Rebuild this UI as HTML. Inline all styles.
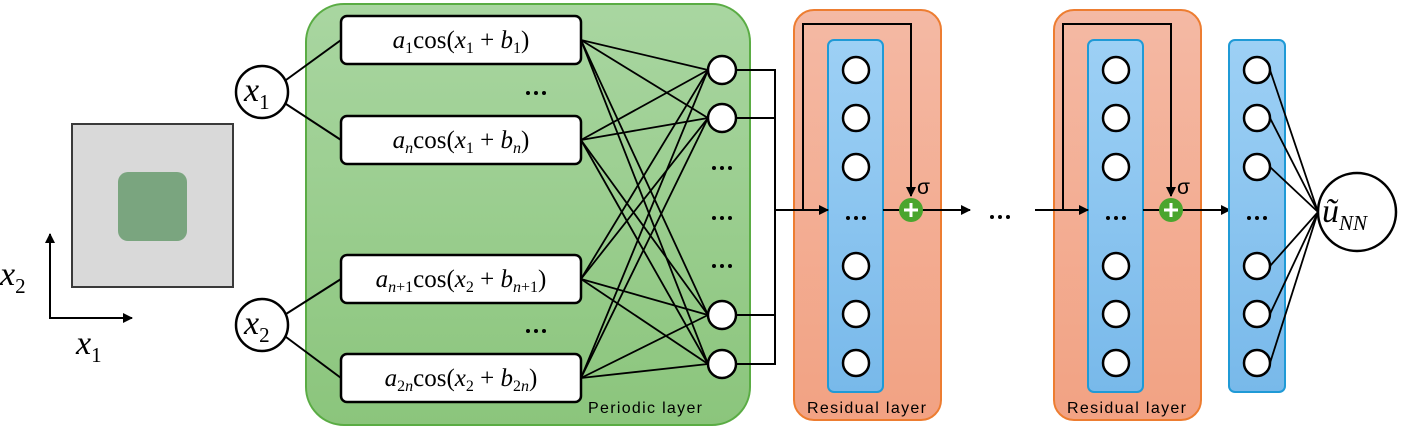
<!DOCTYPE html>
<html><head><meta charset="utf-8"><style>
html,body{margin:0;padding:0;background:#fff;}
svg{display:block;}
.m{font-family:"Liberation Serif",serif;font-style:italic;}
.s{font-family:"Liberation Sans",sans-serif;}
</style></head><body>
<svg width="1401" height="432" viewBox="0 0 1401 432" xmlns="http://www.w3.org/2000/svg">
<defs>
<linearGradient id="g" x1="0" y1="0" x2="0" y2="1"><stop offset="0" stop-color="#a9d6a1"/><stop offset="1" stop-color="#8bc57c"/></linearGradient>
<linearGradient id="o" x1="0" y1="0" x2="0" y2="1"><stop offset="0" stop-color="#f4b9a4"/><stop offset="1" stop-color="#f2a283"/></linearGradient>
<linearGradient id="b" x1="0" y1="0" x2="0" y2="1"><stop offset="0" stop-color="#9dd0f5"/><stop offset="1" stop-color="#78b9ea"/></linearGradient>
<marker id="a" markerWidth="10" markerHeight="10" refX="9" refY="5" orient="auto" markerUnits="userSpaceOnUse"><path d="M0,0 L10,5 L0,10 z" fill="#000"/></marker>
</defs>
<rect x="72" y="124" width="161" height="163" fill="#d9d9d9" stroke="#3a3a3a" stroke-width="2"/>
<rect x="118" y="172" width="69" height="69" rx="10" fill="#7aa57f"/>
<line x1="50" y1="318" x2="50" y2="234" stroke="#000" stroke-width="2" marker-end="url(#a)"/>
<line x1="49" y1="318" x2="132" y2="318" stroke="#000" stroke-width="2" marker-end="url(#a)"/>
<text x="0" y="285" class="m" font-size="34">x<tspan font-size="21" dy="8" font-style="normal">2</tspan></text>
<text x="76" y="354" class="m" font-size="34">x<tspan font-size="21" dy="8" font-style="normal">1</tspan></text>
<rect x="306" y="4" width="444" height="421" rx="38" fill="url(#g)" stroke="#5aac44" stroke-width="2"/>
<g stroke="#000" stroke-width="2">
<line x1="286" y1="80" x2="341" y2="40"/><line x1="286" y1="104" x2="341" y2="140"/>
<line x1="286" y1="314" x2="341" y2="279"/><line x1="286" y1="337" x2="341" y2="378"/>
</g>
<g stroke="#000" stroke-width="1.8">
<line x1="581" y1="40" x2="708" y2="70"/><line x1="581" y1="40" x2="708" y2="118"/><line x1="581" y1="40" x2="708" y2="315"/><line x1="581" y1="40" x2="708" y2="364"/>
<line x1="581" y1="140" x2="708" y2="70"/><line x1="581" y1="140" x2="708" y2="118"/><line x1="581" y1="140" x2="708" y2="315"/><line x1="581" y1="140" x2="708" y2="364"/>
<line x1="581" y1="279" x2="708" y2="70"/><line x1="581" y1="279" x2="708" y2="118"/><line x1="581" y1="279" x2="708" y2="315"/><line x1="581" y1="279" x2="708" y2="364"/>
<line x1="581" y1="378" x2="708" y2="70"/><line x1="581" y1="378" x2="708" y2="118"/><line x1="581" y1="378" x2="708" y2="315"/><line x1="581" y1="378" x2="708" y2="364"/>
</g>
<g fill="#fff" stroke="#000" stroke-width="2.5">
<circle cx="262" cy="92" r="26"/><circle cx="262" cy="325" r="26"/>
<rect x="341" y="16" width="240" height="48" rx="6"/><rect x="341" y="116" width="240" height="48" rx="6"/>
<rect x="341" y="255" width="240" height="48" rx="6"/><rect x="341" y="354" width="240" height="48" rx="6"/>
</g>
<text x="244" y="101" class="m" font-size="34">x<tspan font-size="21" dy="8" font-style="normal">1</tspan></text>
<text x="244" y="334" class="m" font-size="34">x<tspan font-size="21" dy="8" font-style="normal">2</tspan></text>
<g class="m" font-size="25" text-anchor="middle">
<text x="461" y="48">a<tspan font-size="16" dy="5" font-style="normal">1</tspan><tspan dy="-5" font-style="normal">cos(</tspan>x<tspan font-size="16" dy="5" font-style="normal">1</tspan><tspan dy="-5" font-style="normal"> + </tspan>b<tspan font-size="16" dy="5" font-style="normal">1</tspan><tspan dy="-5" font-style="normal">)</tspan></text>
<text x="461" y="148">a<tspan font-size="16" dy="5">n</tspan><tspan dy="-5" font-style="normal">cos(</tspan>x<tspan font-size="16" dy="5" font-style="normal">1</tspan><tspan dy="-5" font-style="normal"> + </tspan>b<tspan font-size="16" dy="5">n</tspan><tspan dy="-5" font-style="normal">)</tspan></text>
<text x="461" y="287">a<tspan font-size="16" dy="5">n<tspan font-style="normal">+1</tspan></tspan><tspan dy="-5" font-style="normal">cos(</tspan>x<tspan font-size="16" dy="5" font-style="normal">2</tspan><tspan dy="-5" font-style="normal"> + </tspan>b<tspan font-size="16" dy="5">n<tspan font-style="normal">+1</tspan></tspan><tspan dy="-5" font-style="normal">)</tspan></text>
<text x="461" y="386">a<tspan font-size="16" dy="5"><tspan font-style="normal">2</tspan>n</tspan><tspan dy="-5" font-style="normal">cos(</tspan>x<tspan font-size="16" dy="5" font-style="normal">2</tspan><tspan dy="-5" font-style="normal"> + </tspan>b<tspan font-size="16" dy="5"><tspan font-style="normal">2</tspan>n</tspan><tspan dy="-5" font-style="normal">)</tspan></text>
</g>
<g fill="#000">
<circle cx="528" cy="93" r="2"/><circle cx="536" cy="93" r="2"/><circle cx="544" cy="93" r="2"/>
<circle cx="528" cy="331" r="2"/><circle cx="536" cy="331" r="2"/><circle cx="544" cy="331" r="2"/>
<circle cx="714" cy="168" r="2"/><circle cx="722" cy="168" r="2"/><circle cx="730" cy="168" r="2"/>
<circle cx="714" cy="218" r="2"/><circle cx="722" cy="218" r="2"/><circle cx="730" cy="218" r="2"/>
<circle cx="714" cy="266" r="2"/><circle cx="722" cy="266" r="2"/><circle cx="730" cy="266" r="2"/>
</g>
<text x="588" y="413" class="s" font-size="16" textLength="114">Periodic layer</text>
<path d="M736,70 H775 V364 H736 M736,118 H775 M736,315 H775" fill="none" stroke="#000" stroke-width="2"/>
<g fill="#fff" stroke="#000" stroke-width="2.5">
<circle cx="722" cy="70" r="14"/><circle cx="722" cy="118" r="14"/><circle cx="722" cy="315" r="14"/><circle cx="722" cy="364" r="14"/>
</g>
<g id="res">
<rect x="794" y="10" width="147" height="410" rx="20" fill="url(#o)" stroke="#ed7d31" stroke-width="2"/>
<rect x="828" y="40" width="55" height="352" rx="6" fill="url(#b)" stroke="#1f9ad6" stroke-width="2"/>
<g fill="#fff" stroke="#000" stroke-width="2.5">
<circle cx="856" cy="70" r="13"/><circle cx="856" cy="118" r="13"/><circle cx="856" cy="167" r="13"/>
<circle cx="856" cy="266" r="13"/><circle cx="856" cy="314" r="13"/><circle cx="856" cy="363" r="13"/>
</g>
<g fill="#000"><circle cx="848" cy="218" r="2"/><circle cx="856" cy="218" r="2"/><circle cx="864" cy="218" r="2"/></g>
<path d="M803,210 V24 H911 V196" fill="none" stroke="#000" stroke-width="2" marker-end="url(#a)"/>
<line x1="803" y1="210" x2="828" y2="210" stroke="#000" stroke-width="2" marker-end="url(#a)"/>
<line x1="883" y1="210" x2="900" y2="210" stroke="#000" stroke-width="2"/>
<line x1="922" y1="210" x2="970" y2="210" stroke="#000" stroke-width="2" marker-end="url(#a)"/>
<circle cx="911" cy="210" r="12" fill="#4aa52e"/>
<path d="M911,203 V217 M904,210 H918" stroke="#fff" stroke-width="3"/>
<text x="917" y="194" class="s" font-size="21">σ</text>
<text x="807" y="413" class="s" font-size="16" textLength="119">Residual layer</text>
</g>
<line x1="775" y1="210" x2="803" y2="210" stroke="#000" stroke-width="2"/>
<use href="#res" x="260"/>
<line x1="1035" y1="210" x2="1063" y2="210" stroke="#000" stroke-width="2"/>
<g fill="#000"><circle cx="992" cy="217" r="2"/><circle cx="1000" cy="217" r="2"/><circle cx="1008" cy="217" r="2"/></g>
<rect x="1229" y="40" width="56" height="352" rx="6" fill="url(#b)" stroke="#1f9ad6" stroke-width="2"/>
<g stroke="#000" stroke-width="1.8">
<line x1="1270" y1="70" x2="1318" y2="212"/><line x1="1270" y1="118" x2="1318" y2="212"/><line x1="1270" y1="167" x2="1318" y2="212"/>
<line x1="1270" y1="266" x2="1318" y2="212"/><line x1="1270" y1="314" x2="1318" y2="212"/><line x1="1270" y1="363" x2="1318" y2="212"/>
</g>
<g fill="#fff" stroke="#000" stroke-width="2.5">
<circle cx="1257" cy="70" r="13"/><circle cx="1257" cy="118" r="13"/><circle cx="1257" cy="167" r="13"/>
<circle cx="1257" cy="266" r="13"/><circle cx="1257" cy="314" r="13"/><circle cx="1257" cy="363" r="13"/>
<circle cx="1357" cy="212" r="39"/>
</g>
<g fill="#000"><circle cx="1249" cy="218" r="2"/><circle cx="1257" cy="218" r="2"/><circle cx="1265" cy="218" r="2"/></g>
<text x="1322" y="222" class="m" font-size="34">ũ<tspan font-size="21" dy="8">NN</tspan></text>
</svg>
</body></html>
